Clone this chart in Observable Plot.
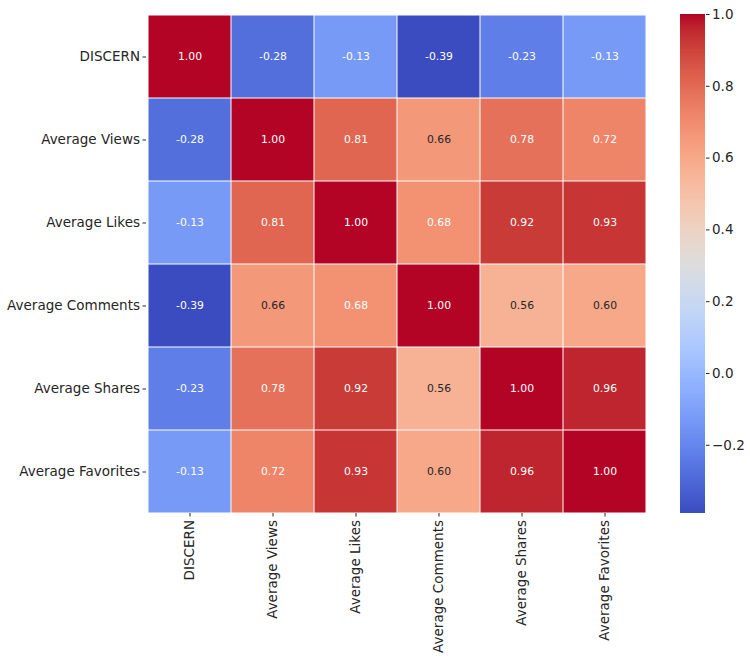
<!DOCTYPE html>
<html>
<head>
<meta charset="utf-8">
<script src="https://cdn.jsdelivr.net/npm/d3@7"></script>
<script src="https://cdn.jsdelivr.net/npm/@observablehq/plot@0.6"></script>
<style>
  html, body { margin: 0; padding: 0; background: #fff; }
  #wrap { position: relative; width: 750px; height: 659px; }
  #wrap svg { position: absolute; left: 0; top: 0; }
</style>
</head>
<body>
<div id="wrap"></div>
<script>
// Variables (rows and columns of the correlation matrix)
const labels = ["DISCERN", "Average Views", "Average Likes", "Average Comments", "Average Shares", "Average Favorites"];

// Correlation values, one row per variable
const rowDISCERN   = [1.00, -0.28, -0.13, -0.39, -0.23, -0.13];
const rowViews     = [-0.28, 1.00, 0.81, 0.66, 0.78, 0.72];
const rowLikes     = [-0.13, 0.81, 1.00, 0.68, 0.92, 0.93];
const rowComments  = [-0.39, 0.66, 0.68, 1.00, 0.56, 0.60];
const rowShares    = [-0.23, 0.78, 0.92, 0.56, 1.00, 0.96];
const rowFavorites = [-0.13, 0.72, 0.93, 0.60, 0.96, 1.00];
const rows = [rowDISCERN, rowViews, rowLikes, rowComments, rowShares, rowFavorites];

// Colour bar
const colorMin = -0.39, colorMax = 1.00;
const colorbarTicks = [-0.2, 0.0, 0.2, 0.4, 0.6, 0.8, 1.0];

// matplotlib "coolwarm" anchor colours
const coolwarm = ["rgb(59,76,192)","rgb(68,90,204)","rgb(77,104,215)","rgb(87,117,225)","rgb(98,130,234)","rgb(108,142,241)","rgb(119,154,247)","rgb(130,165,251)","rgb(141,176,254)","rgb(152,185,255)","rgb(163,194,255)","rgb(174,201,253)","rgb(184,208,249)","rgb(194,213,244)","rgb(204,217,238)","rgb(213,219,230)","rgb(221,221,221)","rgb(229,216,209)","rgb(236,211,197)","rgb(241,204,184)","rgb(245,196,172)","rgb(247,187,159)","rgb(247,177,147)","rgb(247,166,134)","rgb(244,154,123)","rgb(241,141,111)","rgb(236,127,99)","rgb(229,112,89)","rgb(222,96,77)","rgb(213,80,67)","rgb(203,62,56)","rgb(192,40,47)","rgb(180,4,38)"];
const interp = d3.piecewise(d3.interpolateRgb, coolwarm);

const data = [];
rows.forEach((r, i) => r.forEach((v, j) => data.push({row: labels[i], col: labels[j], v})));

function isDarkText(v) {
  const t = Math.max(0, Math.min(1, (v - colorMin) / (colorMax - colorMin)));
  const c = d3.rgb(interp(t));
  const lin = x => { x /= 255; return x <= 0.03928 ? x / 12.92 : Math.pow((x + 0.055) / 1.055, 2.4); };
  const L = 0.2126 * lin(c.r) + 0.7152 * lin(c.g) + 0.0722 * lin(c.b);
  return L > 0.408;
}

const colorScale = {type: "linear", domain: [colorMin, colorMax], interpolate: interp};
const font = {fontFamily: "'DejaVu Sans', sans-serif", fontSize: "13.5px", color: "#262626", background: "transparent"};

const heat = Plot.plot({
  width: 750, height: 659,
  marginLeft: 146, marginRight: 102, marginTop: 14, marginBottom: 146,
  style: font,
  x: {domain: labels, padding: 0, axis: null},
  y: {domain: labels, padding: 0, axis: null},
  color: colorScale,
  marks: [
    Plot.cell(data, {x: "col", y: "row", fill: "v", inset: 0.5}),
    Plot.text(data, {filter: d => isDarkText(d.v), x: "col", y: "row", text: d => d.v.toFixed(2), fill: "#262626", fontSize: 10.8}),
    Plot.text(data, {filter: d => !isDarkText(d.v), x: "col", y: "row", text: d => d.v.toFixed(2), fill: "white", fontSize: 10.8}),
    Plot.axisY({tickSize: 3.5, tickPadding: 3, label: null, fontSize: 13.5}),
    Plot.axisX({tickSize: 3.5, tickPadding: 3, tickRotate: -90, label: null, fontSize: 13.5})
  ]
});

const N = 300;
const slices = d3.range(N).map(i => {
  const a = colorMin + (colorMax - colorMin) * i / N;
  const b = colorMin + (colorMax - colorMin) * (i + 1) / N;
  return {a, b, m: (a + b) / 2};
});

const bar = Plot.plot({
  width: 750, height: 659,
  marginLeft: 680, marginRight: 45, marginTop: 14, marginBottom: 146,
  style: font,
  x: {domain: [0, 1], axis: null},
  y: {domain: [colorMin, colorMax], axis: null},
  color: colorScale,
  marks: [
    Plot.rect(slices, {x1: 0, x2: 1, y1: "a", y2: d => Math.min(colorMax, d.b + 0.003), fill: "m"}),
    Plot.axisY({anchor: "right", ticks: colorbarTicks, tickFormat: d3.format(".1f"), tickSize: 3.5, tickPadding: 3, label: null, fontSize: 13.5})
  ]
});

const wrap = document.getElementById("wrap");
wrap.appendChild(heat);
wrap.appendChild(bar);
</script>
</body>
</html>
